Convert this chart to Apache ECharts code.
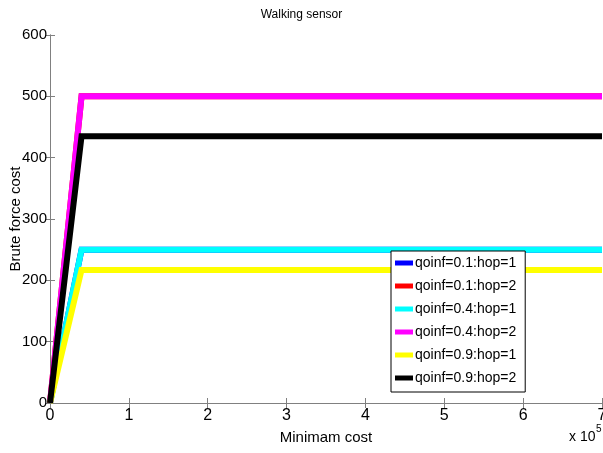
<!DOCTYPE html>
<html><head><meta charset="utf-8">
<script src="https://cdn.jsdelivr.net/npm/echarts@6/dist/echarts.min.js"></script>
<style>html,body{margin:0;padding:0;background:#fff}#c{width:603px;height:453px}</style>
</head><body><div id="c"></div>
<script>
const seriesNames = ['qoinf=0.1:hop=1','qoinf=0.1:hop=2','qoinf=0.4:hop=1','qoinf=0.4:hop=2','qoinf=0.9:hop=1','qoinf=0.9:hop=2'];
const seriesColors = ['#0000ff','#ff0000','#00ffff','#ff00ff','#ffff00','#000000'];
const xValues = [0, 40000, 700000];
const blueY = [0, 250, 250];
const redY = [0, 500, 500];
const cyanY = [0, 250, 250];
const magentaY = [0, 500, 500];
const yellowY = [0, 217, 217];
const blackY = [0, 435, 435];
const allY = [blueY, redY, cyanY, magentaY, yellowY, blackY];
const xTicks = ['0','1','2','3','4','5','6','7'];

const font = 'Liberation Sans, Arial, sans-serif';
const chart = echarts.init(document.getElementById('c'));
const axisCommon = {
  axisLine:{show:true,lineStyle:{color:'#808080',width:1}},
  axisTick:{show:true,inside:true,length:5,lineStyle:{color:'#808080'}},
  splitLine:{show:false}
};
chart.setOption({
  animation:false,
  title:{text:'Walking sensor',left:'center',top:4,textStyle:{fontFamily:font,fontSize:12,fontWeight:'normal',color:'#000'}},
  grid:{left:50,right:1,top:35,bottom:50,containLabel:false,outerBoundsMode:'none'},
  xAxis:[
    Object.assign({type:'value',min:0,max:700000,interval:100000,position:'bottom',
      name:'Minimam cost',nameLocation:'middle',nameGap:27,nameMoveOverlap:false,
      nameTextStyle:{fontFamily:font,fontSize:15,color:'#000'},
      axisLabel:{fontFamily:font,fontSize:16,color:'#000',margin:5,formatter:v=>xTicks[Math.round(v/100000)]}},axisCommon),
    Object.assign({type:'value',min:0,max:700000,interval:100000,position:'top',axisLabel:{show:false}},axisCommon)
  ],
  yAxis:[
    Object.assign({type:'value',min:0,max:600,interval:100,position:'left',
      name:'Brute force cost',nameLocation:'middle',nameGap:27,nameMoveOverlap:false,
      nameTextStyle:{fontFamily:font,fontSize:15,color:'#000'},
      axisLabel:{fontFamily:font,fontSize:15,color:'#000',margin:3}},axisCommon),
    Object.assign({type:'value',min:0,max:600,interval:100,position:'right',axisLabel:{show:false}},axisCommon)
  ],
  legend:{
    orient:'vertical',left:391,top:251,itemWidth:18,itemHeight:5,itemGap:9,
    backgroundColor:'#fff',borderColor:'#000',borderWidth:1,padding:[5,9,7,4],
    textStyle:{fontFamily:font,fontSize:14,color:'#000',padding:[0,0,0,-3]},
    data:seriesNames.map(n=>({name:n,icon:'rect'}))
  },
  graphic:[
    {type:'text',left:569,top:430,style:{text:'x 10',font:'14px '+font,fill:'#000'}},
    {type:'text',left:596,top:424,style:{text:'5',font:'10px '+font,fill:'#000'}}
  ],
  series:seriesNames.map((n,i)=>({
    name:n,type:'line',showSymbol:false,symbol:'none',
    lineStyle:{width:6,color:seriesColors[i],join:'miter'},itemStyle:{color:seriesColors[i]},
    data:xValues.map((x,j)=>[x,allY[i][j]])
  }))
});
</script></body></html>
